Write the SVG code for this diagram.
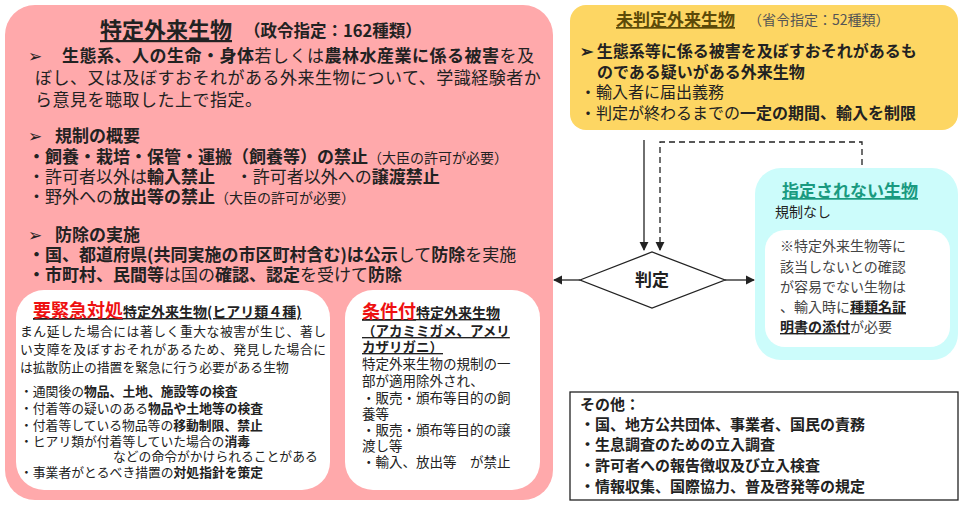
<svg xmlns="http://www.w3.org/2000/svg" width="966" height="507" viewBox="0 0 966 507">
<style>
text{font-family:"Noto Sans CJK JP","Noto Sans",sans-serif;fill:#222}
.b{font-weight:bold}
.m{font-size:17px}
.y{font-size:16px}
.c1{font-size:12.8px}
.c2{font-size:13.5px}
.u{text-decoration:underline}
.red{fill:#ee1111;font-weight:bold}
</style>
<defs>
<marker id="ah" viewBox="0 0 10 10" refX="9" refY="5" markerWidth="7" markerHeight="7" orient="auto-start-reverse"><path d="M0,0 L10,5 L0,10 z" fill="#222"/></marker>
</defs>
<rect width="966" height="507" fill="#fff"/>
<g id="tokutei">
<rect x="5" y="5" width="548" height="495" rx="30" fill="#ffa9ab"/>
<text x="100" y="38" class="b u" font-size="22">特定外来生物</text>
<text x="244" y="37" class="b" font-size="16.5">（政令指定：162種類）</text>
<text x="28" y="62" class="m">➢</text>
<text x="62" y="62" class="m" letter-spacing="0.5"><tspan class="b">生態系、人の生命・身体</tspan>若しくは<tspan class="b">農林水産業に係る被害</tspan>を及</text>
<text x="35" y="84" class="m" letter-spacing="0.5">ぼし、又は及ぼすおそれがある外来生物について、学識経験者か</text>
<text x="35" y="106" class="m" letter-spacing="0.5">ら意見を聴取した上で指定。</text>
<text x="28" y="142" class="m">➢</text>
<text x="55" y="142" class="m b">規制の概要</text>
<text x="28" y="163" class="m"><tspan class="b">・飼養・栽培・保管・運搬（飼養等）の禁止</tspan><tspan font-size="14">（大臣の許可が必要）</tspan></text>
<text x="28" y="183" class="m">・許可者以外は<tspan class="b">輸入禁止</tspan>　 ・許可者以外への<tspan class="b">譲渡禁止</tspan></text>
<text x="28" y="203" class="m">・野外への<tspan class="b">放出等の禁止</tspan><tspan font-size="14">（大臣の許可が必要）</tspan></text>
<text x="28" y="241" class="m">➢</text>
<text x="55" y="241" class="m b">防除の実施</text>
<text x="28" y="261" class="m"><tspan class="b">・国、都道府県(共同実施の市区町村含む)は公示</tspan>して<tspan class="b">防除</tspan>を実施</text>
<text x="28" y="281" class="m"><tspan class="b">・市町村、民間等</tspan>は国の<tspan class="b">確認、認定</tspan>を受けて<tspan class="b">防除</tspan></text>
</g>
<g id="kinkyu">
<rect x="16" y="290" width="314" height="200" rx="28" fill="#fff"/>
<text x="33" y="317" class="u"><tspan class="red" font-size="18">要緊急対処</tspan><tspan class="b" font-size="14">特定外来生物(ヒアリ類４種)</tspan></text>
<text x="20" y="336" class="c1" textLength="306">まん延した場合には著しく重大な被害が生じ、著し</text>
<text x="20" y="354" class="c1" textLength="306">い支障を及ぼすおそれがあるため、発見した場合に</text>
<text x="20" y="372" class="c1">は拡散防止の措置を緊急に行う必要がある生物</text>
<text x="20" y="396" class="c1">・通関後の<tspan class="b">物品、土地、施設等の検査</tspan></text>
<text x="20" y="413" class="c1">・付着等の疑いのある<tspan class="b">物品や土地等の検査</tspan></text>
<text x="20" y="430" class="c1">・付着等している物品等の<tspan class="b">移動制限、禁止</tspan></text>
<text x="20" y="446" class="c1">・ヒアリ類が付着等していた場合の<tspan class="b">消毒</tspan></text>
<text x="113" y="461" class="c1">などの命令がかけられることがある</text>
<text x="20" y="477" class="c1">・事業者がとるべき措置の<tspan class="b">対処指針を策定</tspan></text>
</g>
<g id="joken">
<rect x="345" y="290" width="195" height="200" rx="28" fill="#fff"/>
<text x="362" y="318" class="u"><tspan class="red" font-size="18">条件付</tspan><tspan class="b" font-size="14">特定外来生物</tspan></text>
<text x="362" y="336" class="c2 b u">（アカミミガメ、アメリ</text>
<text x="362" y="352" class="c2 b u">カザリガニ）</text>
<text x="362" y="369" class="c2">特定外来生物の規制の一</text>
<text x="362" y="386" class="c2">部が適用除外され、</text>
<text x="362" y="403" class="c2">・販売・頒布等目的の飼</text>
<text x="362" y="419" class="c2">養等</text>
<text x="362" y="435" class="c2">・販売・頒布等目的の譲</text>
<text x="362" y="451" class="c2">渡し等</text>
<text x="362" y="467" class="c2">・輸入、放出等　が禁止</text>
</g>
<g id="mihantei">
<rect x="570" y="5" width="388" height="125" rx="16" fill="#fdd663"/>
<text x="616" y="26" class="b u" font-size="17" style="fill:#5c4a08">未判定外来生物</text>
<text x="748" y="25" font-size="14" style="fill:#555">（省令指定：52種類）</text>
<text x="580" y="57" class="y b">➢ 生態系等に係る被害を及ぼすおそれがあるも</text>
<text x="597" y="78" class="y b">のである疑いがある外来生物</text>
<text x="580" y="98" class="y">・輸入者に届出義務</text>
<text x="580" y="119" class="y">・判定が終わるまでの<tspan class="b">一定の期間、輸入を制限</tspan></text>
</g>
<g id="hantei">
<polygon points="580,280 652,252 725,280 652,308" fill="#fff" stroke="#222" stroke-width="1.3"/>
<text x="652" y="286" class="b" font-size="17" text-anchor="middle">判定</text>
</g>
<g id="shitei-nashi">
<rect x="755" y="168" width="203" height="192" rx="26" fill="#ccfcfb"/>
<text x="782" y="197" class="b u" font-size="17" style="fill:#1a9a80">指定されない生物</text>
<text x="775" y="217" font-size="14">規制なし</text>
<rect x="765" y="230" width="185" height="117" rx="20" fill="#fff"/>
<text x="780" y="251" font-size="14" style="fill:#444">※特定外来生物等に</text>
<text x="780" y="272" font-size="14" style="fill:#444">該当しないとの確認</text>
<text x="780" y="292" font-size="14" style="fill:#444">が容易でない生物は</text>
<text x="780" y="312" font-size="14" style="fill:#444">、輸入時に<tspan class="b u" style="fill:#222">種類名証</tspan></text>
<text x="780" y="332" font-size="14" style="fill:#444"><tspan class="b u" style="fill:#222">明書の添付</tspan>が必要</text>
</g>
<g id="sonota">
<rect x="570" y="392" width="388" height="108" fill="#fff" stroke="#222" stroke-width="1.3"/>
<text x="580" y="410" class="b" font-size="15">その他：</text>
<text x="580" y="430" class="b" font-size="15">・国、地方公共団体、事業者、国民の責務</text>
<text x="580" y="450" class="b" font-size="15">・生息調査のための立入調査</text>
<text x="580" y="471" class="b" font-size="15">・許可者への報告徴収及び立入検査</text>
<text x="580" y="492" class="b" font-size="15">・情報収集、国際協力、普及啓発等の規定</text>
</g>
<g id="connectors" fill="none" stroke="#222" stroke-width="1.3">
<path d="M644,140 V250" marker-end="url(#ah)"/>
<path d="M862,165 V142 H660 V250" stroke-dasharray="6,4" marker-end="url(#ah)"/>
<path d="M580,280 H554" marker-end="url(#ah)"/>
<path d="M725,280 H754" marker-end="url(#ah)"/>
</g>
</svg>
